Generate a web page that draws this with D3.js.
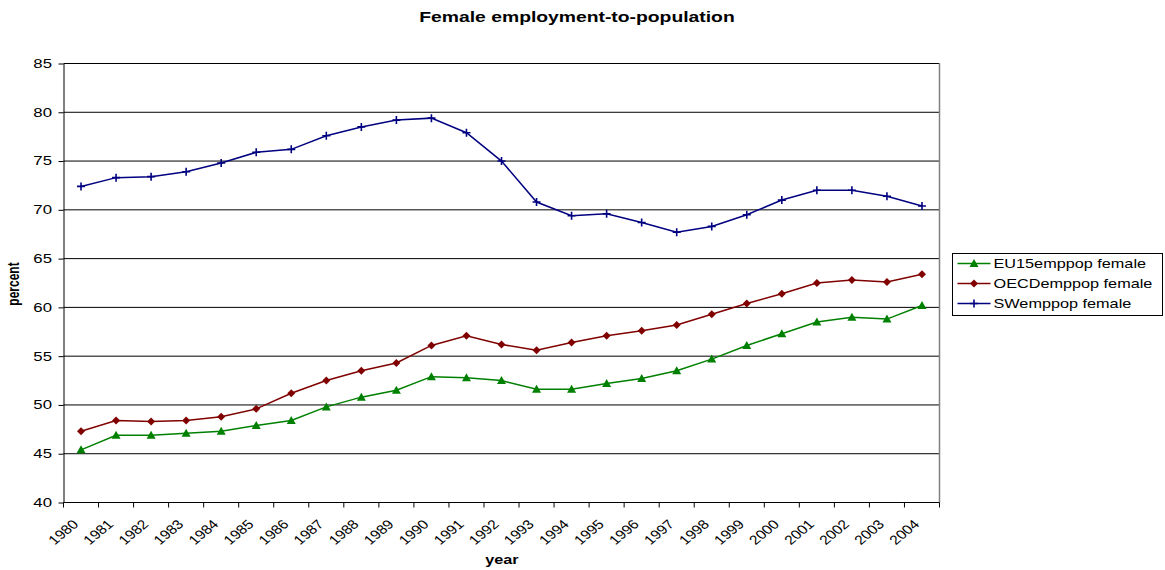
<!DOCTYPE html>
<html>
<head>
<meta charset="utf-8">
<script src="https://cdn.jsdelivr.net/npm/d3@7"></script>
<style>
  html, body { margin: 0; padding: 0; background: #fff; }
  svg { display: block; font-family: "Liberation Sans", Arial, sans-serif; }
</style>
</head>
<body>
<svg id="chart" width="1165" height="570"></svg>
<script>
// Female employment-to-population ratios, 1980-2004
const years = d3.range(1980, 2005).map(String);
const eu15 = [45.4, 46.9, 46.9, 47.1, 47.3, 47.9, 48.4, 49.8, 50.8, 51.5, 52.9, 52.8, 52.5, 51.6, 51.6, 52.2, 52.7, 53.5, 54.7, 56.1, 57.3, 58.5, 59.0, 58.8, 60.2];
const oecd = [47.3, 48.4, 48.3, 48.4, 48.8, 49.6, 51.2, 52.5, 53.5, 54.3, 56.1, 57.1, 56.2, 55.6, 56.4, 57.1, 57.6, 58.2, 59.3, 60.4, 61.4, 62.5, 62.8, 62.6, 63.4];
const sw   = [72.4, 73.3, 73.4, 73.9, 74.8, 75.9, 76.2, 77.6, 78.5, 79.2, 79.4, 77.9, 75.0, 70.8, 69.4, 69.6, 68.7, 67.7, 68.3, 69.5, 71.0, 72.0, 72.0, 71.4, 70.4];
const yTicks = [40, 45, 50, 55, 60, 65, 70, 75, 80, 85];

const series = [
  { name: "EU15emppop female", values: eu15, color: "#008000", marker: "triangle" },
  { name: "OECDemppop female", values: oecd, color: "#800000", marker: "diamond" },
  { name: "SWemppop female",   values: sw,   color: "#000080", marker: "plus" }
];

const svg = d3.select("#chart");
const margin = { left: 63.5, top: 63.5, right: 939.5, bottom: 502.5 };
const stretch = 1.4; // wide lettering used throughout the chart

const x = d3.scaleBand().domain(years).range([margin.left, margin.right]).padding(0);
const y = d3.scaleLinear().domain([40, 85]).range([margin.bottom, margin.top]);

// horizontal gridlines
svg.append("g")
  .selectAll("line")
  .data(yTicks.filter(t => t > 40))
  .join("line")
  .attr("x1", margin.left).attr("x2", margin.right)
  .attr("y1", d => y(d)).attr("y2", d => y(d))
  .attr("stroke", "#000").attr("stroke-width", 1);

// right border of the plot area
svg.append("line")
  .attr("x1", margin.right).attr("x2", margin.right)
  .attr("y1", margin.top).attr("y2", margin.bottom)
  .attr("stroke", "#808080").attr("stroke-width", 1.5);

// y axis
const yAxis = svg.append("g")
  .attr("transform", `translate(${margin.left},0)`)
  .call(d3.axisLeft(y).tickValues(yTicks).tickSize(5).tickPadding(6).tickSizeOuter(0));
yAxis.select(".domain").attr("stroke", "#000");
yAxis.selectAll(".tick line").attr("stroke", "#000");
yAxis.selectAll(".tick text")
  .attr("x", 0)
  .attr("transform", `translate(-11.5,0) scale(${stretch},1)`)
  .attr("font-size", "12px")
  .attr("font-family", "Liberation Sans, Arial, sans-serif")
  .attr("fill", "#000");

// x axis: ticks on category boundaries, labels rotated
const xAxisG = svg.append("g").attr("transform", `translate(0,${margin.bottom})`);
xAxisG.append("line")
  .attr("x1", margin.left).attr("x2", margin.right)
  .attr("stroke", "#000");
const boundaries = years.map(d => x(d)).concat([margin.right]);
xAxisG.selectAll("line.tk")
  .data(boundaries)
  .join("line")
  .attr("class", "tk")
  .attr("x1", d => d).attr("x2", d => d)
  .attr("y1", 0).attr("y2", 5)
  .attr("stroke", "#000");
xAxisG.selectAll("text")
  .data(years)
  .join("text")
  .attr("transform", d => `translate(${x(d) + 8},16) scale(1.2,1) rotate(-45)`)
  .attr("text-anchor", "end")
  .attr("dy", "0.71em")
  .attr("font-size", "13px")
  .attr("fill", "#000")
  .text(d => d);

// series lines
const line = d3.line()
  .x((d, i) => x(years[i]) + x.bandwidth() / 2)
  .y(d => y(d));

function drawMarker(g, type, color) {
  if (type === "triangle") {
    g.append("path").attr("d", "M0,-4.5L4.5,3.5L-4.5,3.5Z").attr("fill", color);
  } else if (type === "diamond") {
    g.append("path").attr("d", "M0,-4L4,0L0,4L-4,0Z").attr("fill", color);
  } else {
    g.append("path").attr("d", "M-4,0H4M0,-4V4").attr("stroke", color).attr("stroke-width", 1.6).attr("fill", "none");
  }
}

series.forEach(s => {
  svg.append("path")
    .datum(s.values)
    .attr("d", line)
    .attr("fill", "none")
    .attr("stroke", s.color)
    .attr("stroke-width", 1.5);
  s.values.forEach((v, i) => {
    const g = svg.append("g")
      .attr("transform", `translate(${x(years[i]) + x.bandwidth() / 2},${y(v)})`);
    drawMarker(g, s.marker, s.color);
  });
});

// title and axis titles
svg.append("text")
  .attr("transform", `translate(577,22) scale(1.38,1)`)
  .attr("text-anchor", "middle")
  .attr("font-size", "14px").attr("font-weight", "bold")
  .text("Female employment-to-population");

svg.append("text")
  .attr("transform", `translate(502,564) scale(1.35,1)`)
  .attr("text-anchor", "middle")
  .attr("font-size", "12px").attr("font-weight", "bold")
  .text("year");

svg.append("text")
  .attr("transform", `translate(19,284) scale(${stretch},1) rotate(-90)`)
  .attr("text-anchor", "middle")
  .attr("font-size", "12px").attr("font-weight", "bold")
  .text("percent");

// legend
const legend = svg.append("g").attr("transform", "translate(952.5,253.5)");
legend.append("rect")
  .attr("width", 210).attr("height", 62)
  .attr("fill", "#fff").attr("stroke", "#000").attr("stroke-width", 1);
series.forEach((s, i) => {
  const row = legend.append("g").attr("transform", `translate(0,${10 + i * 20})`);
  row.append("line")
    .attr("x1", 5).attr("x2", 38)
    .attr("stroke", s.color).attr("stroke-width", 1.5);
  drawMarker(row.append("g").attr("transform", "translate(21.5,0)"), s.marker, s.color);
  row.append("text")
    .attr("transform", `translate(41,0) scale(1.3,1)`)
    .attr("dy", "0.36em")
    .attr("font-size", "12.5px")
    .text(s.name);
});
</script>
</body>
</html>
